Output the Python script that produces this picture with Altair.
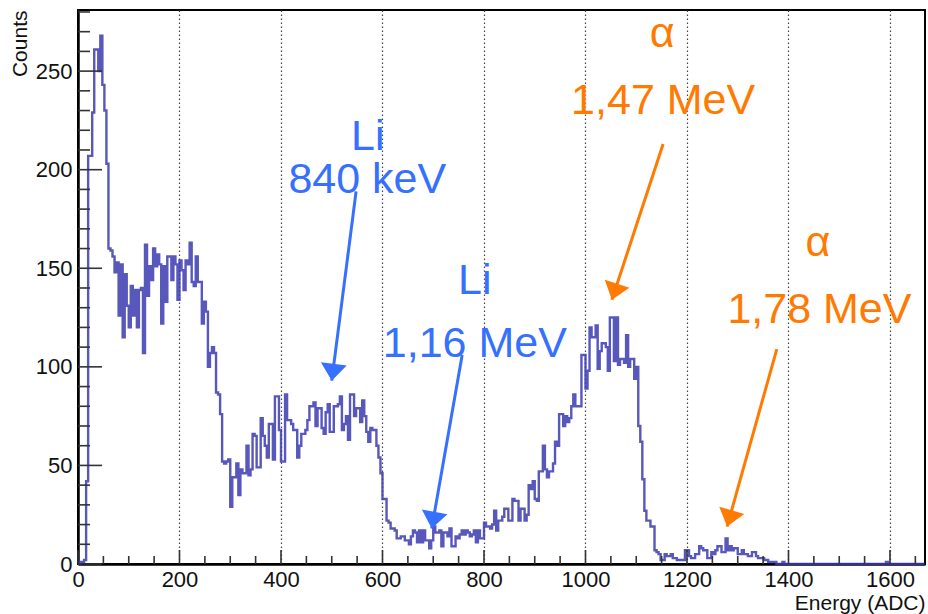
import altair as alt
import pandas as pd

# ---------------- data ----------------
BIN_WIDTH = 4  # ADC channels per histogram bin

counts = [
    # 0 - 96
    0, 1, 1, 2, 42, 207, 207, 229, 261, 261, 250, 268, 243, 230, 203, 160, 159, 156, 148, 153, 126, 152, 115, 147, 131,
    # 100 - 196
    120, 141, 126, 139, 120, 139, 140, 107, 162, 136, 151, 144, 160, 151, 157, 152, 122, 151, 133, 156, 156, 144, 156, 152, 134,
    # 200 - 296
    154, 149, 139, 154, 152, 163, 143, 141, 156, 143, 143, 122, 133, 128, 100, 107, 110, 107, 87, 86, 76, 52, 51, 52, 53,
    # 300 - 396
    29, 44, 44, 51, 35, 48, 46, 46, 60, 45, 48, 66, 65, 49, 49, 74, 65, 60, 54, 71, 71, 53, 85, 85, 68,
    # 400 - 496
    52, 52, 86, 73, 73, 71, 68, 68, 54, 60, 66, 66, 68, 73, 80, 80, 82, 70, 79, 79, 69, 66, 77, 81, 67,
    # 500 - 596
    67, 80, 80, 81, 85, 68, 71, 75, 63, 86, 86, 75, 79, 79, 72, 83, 75, 67, 62, 69, 68, 68, 60, 54, 46,
    # 600 - 696
    33, 33, 22, 21, 18, 18, 17, 13, 13, 14, 14, 12, 12, 10, 14, 17, 16, 11, 17, 11, 17, 12, 12, 8, 12,
    # 700 - 796
    19, 16, 16, 17, 9, 16, 16, 14, 18, 9, 9, 14, 13, 15, 17, 15, 17, 16, 14, 15, 17, 11, 17, 13, 13,
    # 800 - 896
    21, 19, 19, 18, 20, 27, 17, 22, 22, 24, 28, 28, 22, 22, 33, 32, 32, 22, 28, 28, 22, 25, 40, 38, 42,
    # 900 - 996
    33, 32, 47, 47, 60, 48, 44, 47, 47, 51, 62, 60, 76, 76, 70, 75, 72, 74, 80, 86, 80, 80, 80, 106, 106,
    # 1000 - 1096
    89, 98, 120, 115, 115, 121, 99, 108, 112, 112, 110, 98, 125, 125, 103, 125, 101, 104, 104, 102, 116, 100, 104, 104, 94,
    # 1100 - 1196
    100, 70, 62, 43, 27, 22, 22, 19, 19, 7, 6, 5, 2, 2, 5, 4, 4, 5, 3, 3, 2, 2, 2, 2, 7,
    # 1200 - 1296
    7, 4, 3, 3, 5, 5, 9, 8, 7, 7, 3, 3, 6, 5, 7, 9, 9, 6, 6, 13, 7, 9, 7, 8, 8,
    # 1300 - 1396
    5, 5, 7, 5, 5, 4, 4, 6, 6, 4, 3, 3, 3, 2, 2, 1, 1, 1, 1, 0, 0, 0, 1, 0, 0,
    # 1400 - 1496
    0, 0, 0, 0, 0, 0, 0, 0, 0, 0, 0, 0, 0, 0, 0, 0, 0, 0, 0, 0, 0, 0, 0, 0, 0,
    # 1500 - 1596
    0, 0, 0, 0, 0, 0, 0, 0, 0, 0, 0, 0, 0, 0, 0, 0, 0, 0, 0, 0, 0, 0, 0, 1, 0,
    # 1600 - 1664
    0, 0, 0, 0, 0, 0, 0, 0, 0, 0, 0, 0, 0, 0, 0, 0, 0,
]

X_MAX = 1669
Y_MAX = 281

x_major = [0, 200, 400, 600, 800, 1000, 1200, 1400, 1600]
x_minor = [50, 100, 150, 250, 300, 350, 450, 500, 550, 650, 700, 750, 850, 900, 950,
           1050, 1100, 1150, 1250, 1300, 1350, 1450, 1500, 1550, 1650]
y_major = [0, 50, 100, 150, 200, 250]
y_minor = [10, 20, 30, 40, 60, 70, 80, 90, 110, 120, 130, 140, 160, 170, 180, 190,
           210, 220, 230, 240, 260, 270, 280]

BLUE = "#3570FF"
ORANGE = "#FF7A00"

ann_text = ["Li", "840 keV", "Li", "1,16 MeV", "α", "1,47 MeV", "α", "1,78 MeV"]
ann_x = [571, 570, 782, 782, 1151, 1153, 1458, 1461]
ann_y = [210, 188, 137, 105, 262, 228, 156, 122]
ann_color = [BLUE, BLUE, BLUE, BLUE, ORANGE, ORANGE, ORANGE, ORANGE]

arr_x1 = [548, 757, 1153, 1377]
arr_y1 = [189, 106, 213, 109]
arr_x2 = [500, 697, 1052, 1279]
arr_y2 = [93, 18, 134, 19]
arr_angle = [7, 10, 18, 16]
arr_color = [BLUE, BLUE, ORANGE, ORANGE]

# ---------------- tables ----------------
edges = [i * BIN_WIDTH for i in range(len(counts) + 1)]
hist = pd.DataFrame({"energy": edges, "counts": counts + [0]})
ann = pd.DataFrame({"t": ann_text, "x": ann_x, "y": ann_y, "c": ann_color})
arr = pd.DataFrame({"x1": arr_x1, "y1": arr_y1, "x2": arr_x2, "y2": arr_y2,
                    "a": arr_angle, "c": arr_color})

W, H = 847, 554
FONT = "Liberation Sans"
LABEL_SIZE = 22

xs = alt.Scale(domain=[0, X_MAX], nice=False, zero=False)
ys = alt.Scale(domain=[0, Y_MAX], nice=False)

X_AXIS = alt.Axis(
    values=x_major, format="d", grid=True, gridDash=[1.5, 2.5], gridColor="#444", gridWidth=1.2,
    ticks=False, domainColor="black", domainWidth=2.5,
    labelFont=FONT, labelFontSize=LABEL_SIZE, labelColor="#111", labelPadding=5,
    labelFlush=False, labelOverlap=False,
    title="Energy (ADC)", titleFont=FONT, titleFontSize=21, titleFontWeight="normal",
    titleColor="#111", titleAnchor="end", titleAlign="right", titleX=W, titleY=45,
    titleBaseline="alphabetic")
Y_AXIS = alt.Axis(
    values=y_major, format="d", grid=False, ticks=False, domainColor="black", domainWidth=2.5,
    labelFont=FONT, labelFontSize=LABEL_SIZE, labelColor="#111", labelPadding=6,
    labelFlush=False, labelOverlap=False,
    title="Counts", titleFont=FONT, titleFontSize=21, titleFontWeight="normal",
    titleColor="#111", titleAngle=-90, titleAlign="right", titleBaseline="middle",
    titleX=-58, titleY=0)


def X(field):
    return alt.X(field, scale=xs, axis=X_AXIS, title="Energy (ADC)")


def Y(field):
    return alt.Y(field, scale=ys, axis=Y_AXIS, title="Counts")


line = alt.Chart(hist).mark_line(
    interpolate="step-after", color="#3A3AB0", strokeWidth=2.4, opacity=0.85
).encode(x=X("energy:Q"), y=Y("counts:Q"))


def yticks(vals, length):
    return alt.Chart(pd.DataFrame({"v": vals})).mark_rule(color="#333", strokeWidth=1.6).encode(
        y=Y("v:Q"), x=alt.value(0), x2=alt.value(length))


def xticks(vals, length):
    return alt.Chart(pd.DataFrame({"v": vals})).mark_rule(color="#333", strokeWidth=1.6).encode(
        x=X("v:Q"), y=alt.value(H), y2=alt.value(H - length))


shafts = alt.Chart(arr).mark_rule(strokeWidth=3).encode(
    x=X("x1:Q"), y=Y("y1:Q"), x2="x2:Q", y2="y2:Q",
    color=alt.Color("c:N", scale=None))

heads = alt.Chart(arr).mark_point(
    shape="M0,0L-1,-1.3L1,-1.3Z", filled=True, opacity=1, size=676
).encode(
    x=X("x2:Q"), y=Y("y2:Q"),
    angle=alt.Angle("a:Q", scale=None), color=alt.Color("c:N", scale=None))

texts = alt.Chart(ann).mark_text(
    font=FONT, fontSize=43, align="center", baseline="alphabetic"
).encode(
    x=X("x:Q"), y=Y("y:Q"),
    text="t:N", color=alt.Color("c:N", scale=None))

chart = alt.layer(
    line,
    yticks(y_minor, 12), yticks(y_major, 24),
    xticks(x_minor, 8), xticks(x_major, 14),
    shafts, heads, texts,
).properties(
    width=W, height=H,
    autosize=alt.AutoSizeParams(type="none"),
    padding={"left": 78, "top": 10, "right": 3, "bottom": 50},
    background="white",
).configure_view(
    stroke="black", strokeWidth=2
).configure_axis(
    labelFont=FONT, labelFontSize=LABEL_SIZE, titleFont=FONT, titleFontSize=21
)

chart.save("out.html", embed_options={"renderer": "svg", "actions": False})
